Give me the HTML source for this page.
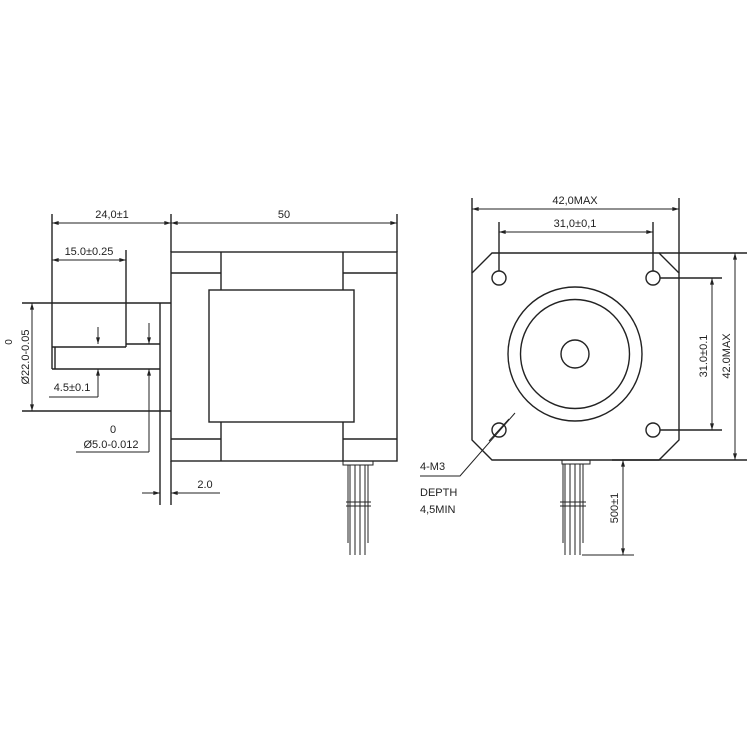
<!DOCTYPE html>
<html><head><style>
html,body{margin:0;padding:0;background:#fff;}
svg{display:block;}
text{font-family:"Liberation Sans",sans-serif;font-size:11px;fill:#222;}
</style></head><body>
<svg width="750" height="750" viewBox="0 0 750 750" xmlns="http://www.w3.org/2000/svg">
<defs>
<marker id="a" viewBox="0 0 10 6" refX="10" refY="3" markerWidth="8" markerHeight="4" orient="auto-start-reverse"><path d="M0,0L10,3L0,6z" fill="#222"/></marker>
</defs>
<g stroke="#222" stroke-width="1.4" fill="none">
<!-- LEFT VIEW body -->
<rect x="171" y="252" width="226" height="209"/>
<line x1="171" y1="273" x2="221" y2="273"/><line x1="343" y1="273" x2="397" y2="273"/>
<line x1="171" y1="439" x2="221" y2="439"/><line x1="343" y1="439" x2="397" y2="439"/>
<line x1="221" y1="252" x2="221" y2="290"/><line x1="343" y1="252" x2="343" y2="290"/>
<line x1="221" y1="422" x2="221" y2="461"/><line x1="343" y1="422" x2="343" y2="461"/>
<rect x="209" y="290" width="145" height="132"/>
<!-- boss and shaft -->
<line x1="22" y1="303" x2="171" y2="303"/><line x1="22" y1="411" x2="171" y2="411"/>
<line x1="160" y1="303" x2="160" y2="505"/><line x1="171" y1="461" x2="171" y2="505"/>
<line x1="52" y1="214" x2="52" y2="369"/>
<line x1="126" y1="250" x2="126" y2="347"/>
<line x1="126" y1="344" x2="160" y2="344"/>
<line x1="52" y1="347" x2="126" y2="347"/>
<line x1="52" y1="369" x2="160" y2="369"/>
<line x1="55" y1="347" x2="55" y2="369"/>
<line x1="171" y1="214" x2="171" y2="252"/><line x1="397" y1="214" x2="397" y2="252"/>
<!-- dims -->
<line x1="52" y1="223" x2="171" y2="223" marker-start="url(#a)" marker-end="url(#a)" stroke-width="1"/>
<line x1="171" y1="223" x2="397" y2="223" marker-start="url(#a)" marker-end="url(#a)" stroke-width="1"/>
<line x1="52" y1="260" x2="126" y2="260" marker-start="url(#a)" marker-end="url(#a)" stroke-width="1"/>
<line x1="32" y1="303" x2="32" y2="411" marker-start="url(#a)" marker-end="url(#a)" stroke-width="1"/>
<line x1="98" y1="327" x2="98" y2="344" marker-end="url(#a)" stroke-width="1"/>
<line x1="98" y1="397" x2="98" y2="369" marker-end="url(#a)" stroke-width="1"/>
<line x1="49" y1="397" x2="98" y2="397" stroke-width="1"/>
<line x1="149" y1="323" x2="149" y2="344" marker-end="url(#a)" stroke-width="1"/>
<line x1="149" y1="452" x2="149" y2="369" marker-end="url(#a)" stroke-width="1"/>
<line x1="76" y1="452" x2="149" y2="452" stroke-width="1"/>
<line x1="142" y1="493" x2="160" y2="493" marker-end="url(#a)" stroke-width="1"/>
<line x1="220" y1="493" x2="171" y2="493" marker-end="url(#a)" stroke-width="1"/>
<!-- wires left -->
<rect x="343" y="461" width="30" height="4" stroke-width="1"/>
<line x1="350" y1="465" x2="350" y2="555" stroke-width="1"/><line x1="355" y1="465" x2="355" y2="555" stroke-width="1"/>
<line x1="360" y1="465" x2="360" y2="555" stroke-width="1"/><line x1="365" y1="465" x2="365" y2="555" stroke-width="1"/>
<line x1="346" y1="502" x2="371" y2="502" stroke-width="1"/><line x1="346" y1="506" x2="371" y2="506" stroke-width="1"/>
<line x1="348" y1="465" x2="348" y2="543" stroke-width="1"/><line x1="368" y1="465" x2="368" y2="543" stroke-width="1"/>

<!-- RIGHT VIEW -->
<path d="M492,253 L659,253 L679,273 L679,440 L659,460 L492,460 L472,440 L472,273 Z"/>
<circle cx="499" cy="278" r="7"/><circle cx="653" cy="278" r="7"/>
<circle cx="499" cy="430" r="7"/><circle cx="653" cy="430" r="7"/>
<circle cx="575" cy="354" r="67"/><circle cx="575" cy="354" r="54.5"/><circle cx="575" cy="354" r="14"/>
<line x1="472" y1="198" x2="472" y2="273"/><line x1="679" y1="198" x2="679" y2="273"/>
<line x1="499" y1="222" x2="499" y2="271"/><line x1="653" y1="222" x2="653" y2="271"/>
<line x1="472" y1="209" x2="679" y2="209" marker-start="url(#a)" marker-end="url(#a)" stroke-width="1"/>
<line x1="499" y1="232" x2="653" y2="232" marker-start="url(#a)" marker-end="url(#a)" stroke-width="1"/>
<line x1="659" y1="253" x2="747" y2="253"/><line x1="612" y1="460" x2="747" y2="460"/>
<line x1="660" y1="278" x2="722" y2="278"/><line x1="660" y1="430" x2="722" y2="430"/>
<line x1="712" y1="278" x2="712" y2="430" marker-start="url(#a)" marker-end="url(#a)" stroke-width="1"/>
<line x1="735" y1="253" x2="735" y2="460" marker-start="url(#a)" marker-end="url(#a)" stroke-width="1"/>
<polyline points="515,413 460,476 420,476" stroke-width="1"/>
<line x1="489" y1="441" x2="509" y2="419" stroke-width="1"/>
<!-- wires right -->
<rect x="562" y="460" width="28" height="4" stroke-width="1"/>
<line x1="565" y1="464" x2="565" y2="555" stroke-width="1"/><line x1="570" y1="464" x2="570" y2="555" stroke-width="1"/>
<line x1="575" y1="464" x2="575" y2="555" stroke-width="1"/><line x1="580" y1="464" x2="580" y2="555" stroke-width="1"/>
<line x1="563" y1="464" x2="563" y2="543" stroke-width="1"/><line x1="583" y1="464" x2="583" y2="543" stroke-width="1"/>
<line x1="560" y1="502" x2="586" y2="502" stroke-width="1"/><line x1="560" y1="506" x2="586" y2="506" stroke-width="1"/>
<line x1="582" y1="555" x2="634" y2="555" stroke-width="1"/>
<line x1="623" y1="460" x2="623" y2="555" marker-start="url(#a)" marker-end="url(#a)" stroke-width="1"/>
</g>
<text x="112" y="218" text-anchor="middle">24,0±1</text>
<text x="284" y="218" text-anchor="middle">50</text>
<text x="89" y="255" text-anchor="middle">15.0±0.25</text>
<text x="72" y="391" text-anchor="middle">4.5±0.1</text>
<text x="113" y="433" text-anchor="middle">0</text>
<text x="111" y="448" text-anchor="middle">Ø5.0-0.012</text>
<text x="205" y="488" text-anchor="middle">2.0</text>
<text transform="translate(29,357) rotate(-90)" text-anchor="middle">Ø22.0-0.05</text>
<text transform="translate(12,342) rotate(-90)" text-anchor="middle" style="font-size:10px">0</text>
<text x="575" y="204" text-anchor="middle">42,0MAX</text>
<text x="575" y="227" text-anchor="middle">31,0±0,1</text>
<text transform="translate(707,356) rotate(-90)" text-anchor="middle">31.0±0.1</text>
<text transform="translate(730,356) rotate(-90)" text-anchor="middle">42.0MAX</text>
<text transform="translate(618,508) rotate(-90)" text-anchor="middle">500±1</text>
<text x="420" y="470">4-M3</text>
<text x="420" y="496">DEPTH</text>
<text x="420" y="513">4,5MIN</text>
</svg>
</body></html>
